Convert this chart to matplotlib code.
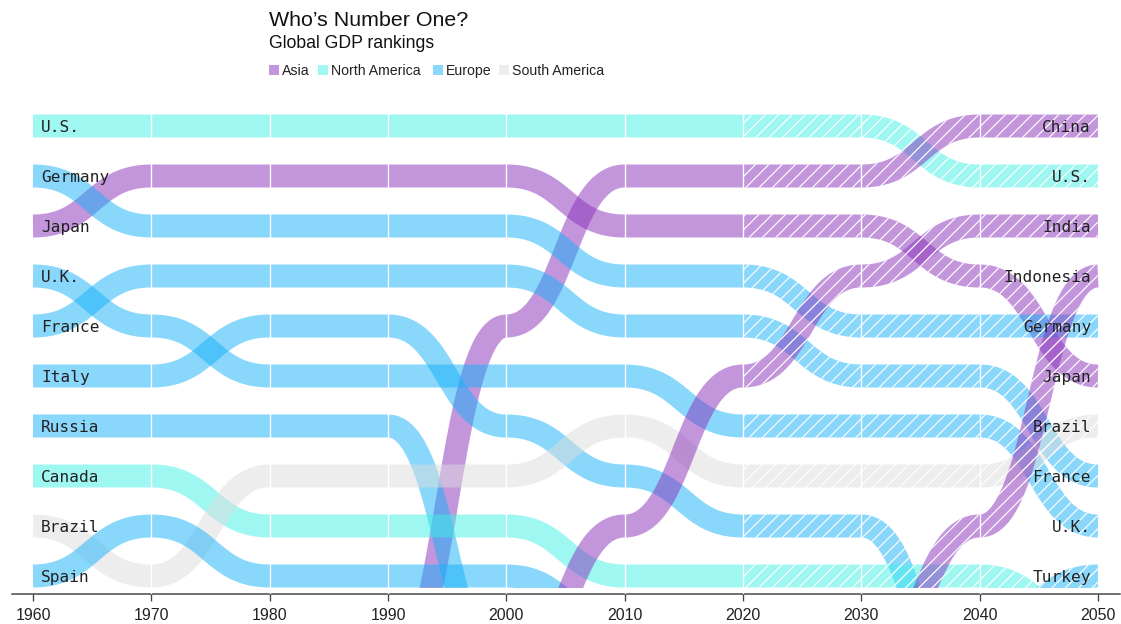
import numpy as np
import matplotlib
matplotlib.use("Agg")
import matplotlib.pyplot as plt
from matplotlib.patches import Polygon, Rectangle

# ---------------- data ----------------
years = [1960, 1970, 1980, 1990, 2000, 2010, 2020, 2030, 2040, 2050]
forecast_start = 2020
nan = np.nan

# GDP rank per decade (ranks > 10 mean "outside the top ten")
rank_us        = [1, 1, 1, 1, 1, 1, 1, 1, 2, 2]
rank_china     = [nan, nan, nan, 12, 5, 2, 2, 2, 1, 1]
rank_japan     = [3, 2, 2, 2, 2, 3, 3, 3, 4, 6]
rank_germany   = [2, 3, 3, 3, 3, 4, 4, 5, 5, 5]
rank_uk        = [4, 5, 6, 6, 6, 6, 7, 7, 7, 9]
rank_france    = [5, 4, 4, 4, 4, 5, 5, 6, 6, 8]
rank_italy     = [6, 6, 5, 5, 7, 8, 9, 9, 13, nan]
rank_russia    = [7, 7, 7, 7, 12, nan, nan, nan, nan, nan]
rank_canada    = [8, 8, 9, 9, 9, 10, 10, 10, 10, 11]
rank_brazil    = [9, 10, 8, 8, 8, 7, 8, 8, 8, 7]
rank_spain     = [10, 9, 10, 10, 10, 11, nan, nan, nan, nan]
rank_india     = [nan, nan, nan, nan, 12, 9, 6, 4, 3, 3]
rank_indonesia = [nan, nan, nan, nan, nan, nan, nan, 12, 9, 4]
rank_turkey    = [nan, nan, nan, nan, nan, nan, nan, nan, 11, 10]

countries = ["U.S.", "China", "Japan", "Germany", "U.K.", "France", "Italy",
             "Russia", "Canada", "Brazil", "Spain", "India", "Indonesia", "Turkey"]
country_region = ["North America", "Asia", "Asia", "Europe", "Europe", "Europe", "Europe",
                  "Europe", "North America", "South America", "Europe", "Asia", "Asia", "Europe"]
ranks = [rank_us, rank_china, rank_japan, rank_germany, rank_uk, rank_france, rank_italy,
         rank_russia, rank_canada, rank_brazil, rank_spain, rank_india, rank_indonesia, rank_turkey]

legend_regions = ["Asia", "North America", "Europe", "South America"]
region_colors = {"Asia": "#c497dd", "North America": "#a0f8f3",
                 "Europe": "#8ad8fc", "South America": "#eeeeee"}

title = "Who\u2019s Number One?"
subtitle = "Global GDP rankings"

# ---------------- layout ----------------
plt.rcParams["hatch.linewidth"] = 0.7

W, H, DPI = 1121, 624, 120
fig = plt.figure(figsize=(W / DPI, H / DPI), dpi=DPI)
fx = lambda px: px / W
fy = lambda py: 1 - py / H

ax_l, ax_r, ax_t, ax_b = 12, 1120, 100, 594
ax = fig.add_axes([fx(ax_l), fy(ax_b), (ax_r - ax_l) / W, (ax_b - ax_t) / H])
x0_px, x1_px = 33, 1098
ppy = (x1_px - x0_px) / (years[-1] - years[0])
ax.set_xlim(years[0] - (x0_px - ax_l) / ppy, years[-1] + (ax_r - x1_px) / ppy)
r1_px, gap = 126, 50
ax.set_ylim(1 + (ax_b - r1_px) / gap, 1 - (r1_px - ax_t) / gap)

HALF = 11.5  # half band width in px
ALPHA = 0.5


def blend_base(hexcol, a):
    t = np.array(matplotlib.colors.to_rgb(hexcol))
    c = 1 - (1 - t) / a
    return tuple(np.clip(c, 0, 1)) + (a,)


def bump(xs, ys, n=90):
    px, py = [xs[0]], [ys[0]]
    for i in range(len(xs) - 1):
        xa, xb, ya, yb = xs[i], xs[i + 1], ys[i], ys[i + 1]
        t = np.linspace(0, 1, n)[1:]
        xm = (xa + xb) / 2
        bx = (1 - t) ** 3 * xa + 3 * (1 - t) ** 2 * t * xm + 3 * (1 - t) * t ** 2 * xm + t ** 3 * xb
        s = 3 * t ** 2 - 2 * t ** 3
        by = ya + (yb - ya) * s
        px.extend(bx)
        py.extend(by)
    return np.array(px), np.array(py)


def band_polygon(xs, ys):
    pts = ax.transData.transform(np.column_stack([xs, ys]))
    d = np.gradient(pts, axis=0)
    d /= np.linalg.norm(d, axis=1)[:, None]
    nrm = np.column_stack([-d[:, 1], d[:, 0]])
    up = pts + HALF * nrm
    lo = pts - HALF * nrm
    poly = np.vstack([up, lo[::-1]])
    return ax.transData.inverted().transform(poly)


clip_bottom = 10 + HALF / gap
yrs = np.array(years, dtype=float)

for name, reg, rk in zip(countries, country_region, ranks):
    rk = np.array(rk, dtype=float)
    valid = ~np.isnan(rk)
    col = region_colors[reg]
    face = blend_base(col, ALPHA)
    parts = [(valid & (yrs <= forecast_start), False), (valid & (yrs >= forecast_start), True)]
    for mask, hatched in parts:
        if mask.sum() < 2:
            continue
        bx, by = bump(yrs[mask], rk[mask])
        poly = band_polygon(bx, by)
        if hatched:
            p = Polygon(poly, closed=True, facecolor=face, edgecolor="white",
                        linewidth=0, hatch="///", zorder=2)
        else:
            p = Polygon(poly, closed=True, facecolor=face, edgecolor="none",
                        linewidth=0, zorder=2)
        ax.add_patch(p)
        clip = Rectangle((1900, -5), 300, clip_bottom + 5, transform=ax.transData)
        p.set_clip_path(clip)

# white decade grid lines over the bands
for yv in years[1:-1]:
    ax.axvline(yv, color="white", lw=0.8, zorder=4)

# country labels
for name, rk in zip(countries, ranks):
    if not np.isnan(rk[0]) and rk[0] <= 10:
        ax.text(years[0] + 8 / ppy, rk[0] + 6 / gap, name, ha="left", va="baseline",
                fontfamily="DejaVu Sans Mono", fontsize=9.7, color="#222222", zorder=6)
    if not np.isnan(rk[-1]) and rk[-1] <= 10:
        ax.text(years[-1] - 7 / ppy, rk[-1] + 6 / gap, name, ha="right", va="baseline",
                fontfamily="DejaVu Sans Mono", fontsize=9.7, color="#222222", zorder=6)

# axis styling
for sp in ["top", "left", "right"]:
    ax.spines[sp].set_visible(False)
ax.spines["bottom"].set_color("#444444")
ax.spines["bottom"].set_linewidth(0.9)
ax.set_yticks([])
ax.set_xticks(years)
ax.set_xticklabels([str(y) for y in years], fontfamily="Liberation Sans", fontsize=9.6, color="#222222")
ax.tick_params(axis="x", length=4.2, width=0.8, color="#444444", pad=4)

# title / subtitle
fig.text(fx(269), fy(26.5), title, fontfamily="Liberation Sans", fontsize=12.8,
         color="#111111", ha="left", va="baseline")
fig.text(fx(269), fy(48.5), subtitle, fontfamily="Liberation Sans", fontsize=10.6,
         color="#111111", ha="left", va="baseline")

# legend
leg_sq_x = [269, 318, 433, 499]
for reg, sx in zip(legend_regions, leg_sq_x):
    fig.patches.append(Rectangle((fx(sx), fy(75)), 10 / W, 10 / H, transform=fig.transFigure,
                                 facecolor=region_colors[reg], edgecolor="none"))
    fig.text(fx(sx + 13), fy(75), reg, fontfamily="Liberation Sans", fontsize=8.5,
             color="#222222", ha="left", va="baseline")

fig.savefig("out.png", dpi=DPI)
